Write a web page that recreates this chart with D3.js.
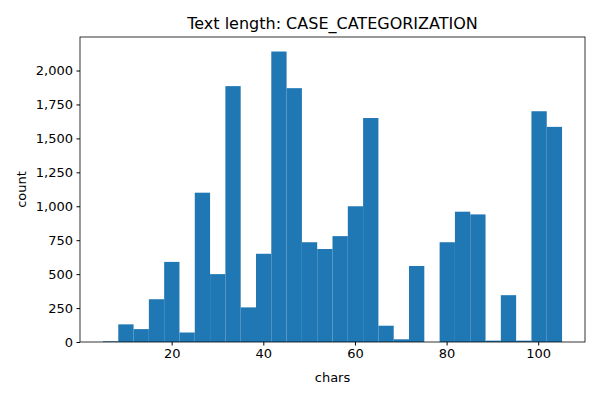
<!DOCTYPE html>
<html><head><meta charset="utf-8">
<script src="https://cdn.jsdelivr.net/npm/d3@7"></script>
<style>body{margin:0;background:#fff}text{font-family:"DejaVu Sans",sans-serif}</style>
</head><body>
<script>
var binStart=5, binEnd=105.2
var counts=[5,130,95,315,590,70,1100,500,1885,255,650,2140,1870,735,685,780,1000,1650,120,20,560,0,735,960,940,10,345,10,1700,1585]
var xTicks=[20,40,60,80,100]
var yTicks=[0,250,500,750,1000,1250,1500,1750,2000]

var W=600,H=400,m={l:80,r:15,t:37,b:58}
var svg=d3.select("body").append("svg").attr("width",W).attr("height",H)
var bw=(binEnd-binStart)/counts.length
var span=binEnd-binStart
var x=d3.scaleLinear().domain([binStart-0.05*span,binEnd+0.05*span]).range([m.l,W-m.r])
var y=d3.scaleLinear().domain([0,d3.max(counts)*1.05]).range([H-m.b,m.t])

svg.selectAll("rect.bar").data(counts).enter().append("rect")
    .attr("x",function(d,i){return x(binStart+i*bw)})
    .attr("width",function(d,i){return x(binStart+(i+1)*bw)-x(binStart+i*bw)})
    .attr("y",function(d){return y(d)})
    .attr("height",function(d){return y(0)-y(d)})
    .attr("fill","#1f77b4")

var xa=svg.append("g").attr("transform","translate(0,"+(H-m.b)+")")
    .call(d3.axisBottom(x).tickValues(xTicks).tickSizeOuter(0).tickSize(3.5).tickPadding(3.5))
var ya=svg.append("g").attr("transform","translate("+m.l+",0)")
    .call(d3.axisLeft(y).tickValues(yTicks).tickSizeOuter(0).tickSize(3.5).tickPadding(3.5))
svg.selectAll(".tick text").attr("font-size","13px").attr("font-family","DejaVu Sans").attr("fill","#000")
svg.selectAll(".domain").remove()
svg.append("rect").attr("x",m.l).attr("y",m.t).attr("width",W-m.r-m.l).attr("height",H-m.b-m.t)
    .attr("fill","none").attr("stroke","#000").attr("stroke-width",0.8)

svg.append("text").attr("x",(m.l+W-m.r)/2).attr("y",29).attr("text-anchor","middle")
    .attr("font-size","16px").text("Text length: CASE_CATEGORIZATION")
svg.append("text").attr("x",(m.l+W-m.r)/2).attr("y",382).attr("text-anchor","middle")
    .attr("font-size","13px").text("chars")
svg.append("text").attr("transform","translate(26,"+((m.t+H-m.b)/2)+") rotate(-90)")
    .attr("text-anchor","middle").attr("font-size","13px").text("count")
</script>
</body></html>
